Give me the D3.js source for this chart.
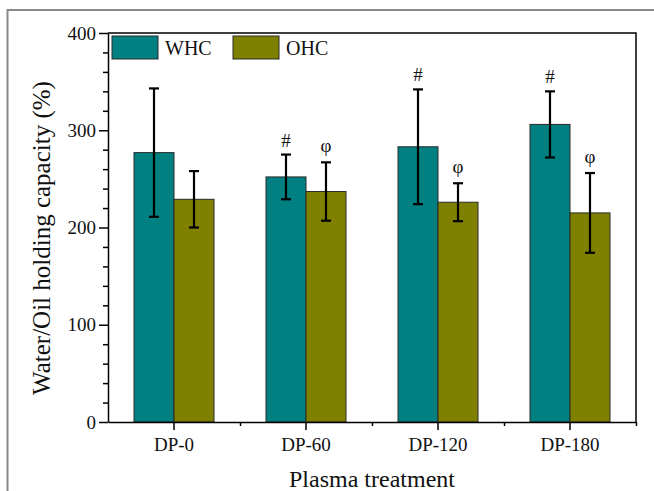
<!DOCTYPE html>
<html>
<head>
<meta charset="utf-8">
<script src="https://cdn.jsdelivr.net/npm/d3@7"></script>
<style>
  body { margin: 0; background: #fff; }
  text { font-family: 'Liberation Serif', 'Times New Roman', serif; fill: #111; }
</style>
</head>
<body>
<div id="chart"></div>
<script>
// Data
const categories = ['DP-0', 'DP-60', 'DP-120', 'DP-180'];
const series = ['WHC', 'OHC'];
const whcMean = [277, 252, 283, 306];
const whcSd = [66, 23, 59, 34];
const ohcMean = [229, 237, 226, 215];
const ohcSd = [29, 30, 19.5, 41];
const whcMarks = ['', '#', '#', '#'];
const ohcMarks = ['', 'φ', 'φ', 'φ'];
const yTicks = [0, 100, 200, 300, 400];

const [width, height] = [654, 491];
const margin = { left: 108, right: 18, top: 33, bottom: 69 };
const colors = { WHC: '#008080', OHC: '#808000' };

const rows = categories.map((c, i) => ({
  cat: c,
  values: [
    { key: 'WHC', mean: whcMean[i], sd: whcSd[i], mark: whcMarks[i] },
    { key: 'OHC', mean: ohcMean[i], sd: ohcSd[i], mark: ohcMarks[i] }
  ]
}));

const svg = d3.select('#chart').append('svg')
  .attr('width', width)
  .attr('height', height);

// outer grey frame (cut by page edges)
svg.append('rect')
  .attr('x', 7.5).attr('y', 10)
  .attr('width', width + 20).attr('height', height + 20)
  .attr('fill', 'none')
  .attr('stroke', '#8a8a8a')
  .attr('stroke-width', 2);

const x = d3.scaleBand()
  .domain(categories)
  .range([margin.left, width - margin.right]);

const xInner = d3.scaleBand()
  .domain(series)
  .range([0, 80]);

const y = d3.scaleLinear()
  .domain([0, 400])
  .range([height - margin.bottom, margin.top]);

const g = svg.append('g');

// bars
const groups = g.selectAll('.grp')
  .data(rows)
  .enter()
  .append('g')
  .attr('transform', (d) => `translate(${x(d.cat) + x.bandwidth() / 2 - 40},0)`);

groups.selectAll('rect')
  .data((d) => d.values)
  .enter()
  .append('rect')
  .attr('x', (d) => xInner(d.key))
  .attr('y', (d) => y(d.mean))
  .attr('width', xInner.bandwidth())
  .attr('height', (d) => y(0) - y(d.mean))
  .attr('fill', (d) => colors[d.key])
  .attr('stroke', '#2a2a2a')
  .attr('stroke-width', 1);

// error bars
const err = groups.selectAll('.err')
  .data((d) => d.values)
  .enter()
  .append('g')
  .attr('transform', (d) => `translate(${xInner(d.key) + xInner.bandwidth() / 2},0)`)
  .attr('stroke', '#000')
  .attr('stroke-width', 2.2);

err.append('line')
  .attr('y1', (d) => y(d.mean - d.sd))
  .attr('y2', (d) => y(d.mean + d.sd));
err.append('line')
  .attr('x1', -5).attr('x2', 5)
  .attr('y1', (d) => y(d.mean + d.sd))
  .attr('y2', (d) => y(d.mean + d.sd));
err.append('line')
  .attr('x1', -5).attr('x2', 5)
  .attr('y1', (d) => y(d.mean - d.sd))
  .attr('y2', (d) => y(d.mean - d.sd));

// significance marks
groups.selectAll('.mark')
  .data((d) => d.values.filter((v) => v.mark))
  .enter()
  .append('text')
  .attr('x', (d) => xInner(d.key) + xInner.bandwidth() / 2)
  .attr('y', (d) => y(d.mean + d.sd) - (d.mark === 'φ' ? 10 : 8))
  .attr('text-anchor', 'middle')
  .style('font-size', '19px')
  .text((d) => d.mark);

// axes
g.append('g')
  .attr('transform', `translate(${margin.left},0)`)
  .call(d3.axisLeft(y).tickValues(yTicks).tickSize(9).tickPadding(3).tickSizeOuter(0));

g.append('g')
  .attr('transform', `translate(${margin.left},0)`)
  .call(d3.axisLeft(y).tickValues(d3.range(20, 400, 20).filter((v) => v % 100 !== 0))
    .tickSize(5).tickFormat('').tickSizeOuter(0))
  .select('.domain').remove();

g.append('g')
  .attr('transform', `translate(0,${y(0)})`)
  .call(d3.axisBottom(x).tickSize(8).tickPadding(8).tickSizeOuter(0));

g.append('g')
  .attr('transform', `translate(0,${y(0)})`)
  .call(d3.axisBottom(d3.scaleLinear().domain([0, 4]).range(x.range()))
    .tickValues([1, 2, 3, 4]).tickSize(4).tickFormat('').tickSizeOuter(0))
  .select('.domain').remove();

g.selectAll('.domain, .tick line')
  .attr('stroke', '#000')
  .attr('stroke-width', 1.5);

g.selectAll('.tick text')
  .style('font-size', '19px')
  .style('font-family', "'Liberation Serif', 'Times New Roman', serif")
  .attr('fill', '#111');

// top and right frame
g.append('path')
  .attr('d', `M${margin.left},${margin.top}H${width - margin.right}V${y(0)}`)
  .attr('fill', 'none')
  .attr('stroke', '#000')
  .attr('stroke-width', 1.5);

// legend
const legend = g.selectAll('.legend')
  .data(series)
  .enter()
  .append('g')
  .attr('transform', (d, i) => `translate(${112 + i * 121},36)`);

legend.append('rect')
  .attr('width', 46)
  .attr('height', 23)
  .attr('fill', (d) => colors[d])
  .attr('stroke', '#2a2a2a')
  .attr('stroke-width', 1);

legend.append('text')
  .attr('x', 53)
  .attr('y', 18.5)
  .style('font-size', '20px')
  .text((d) => d);

// axis titles
svg.append('text')
  .attr('x', (margin.left + width - margin.right) / 2)
  .attr('y', 487)
  .attr('text-anchor', 'middle')
  .style('font-size', '24px')
  .text('Plasma treatment');

svg.append('text')
  .attr('transform', 'translate(50,238) rotate(-90)')
  .attr('text-anchor', 'middle')
  .style('font-size', '25px')
  .text('Water/Oil holding capacity (%)');
</script>
</body>
</html>
